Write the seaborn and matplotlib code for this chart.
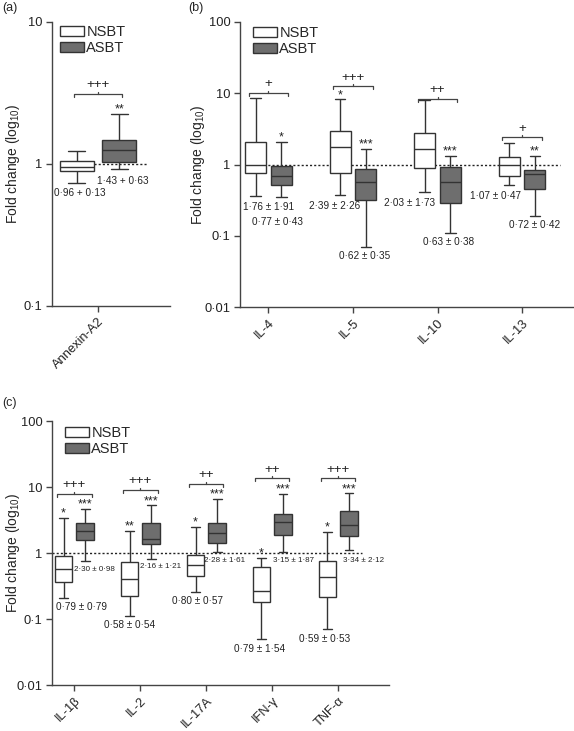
import pandas as pd
import seaborn as sns
import matplotlib.pyplot as plt
from matplotlib.patches import Patch
from matplotlib.ticker import NullLocator

# ---- values ----
# each box: [lower whisker, Q1, median, Q3, upper whisker] of the fold change
groups = ["NSBT", "ASBT"]

annexin_labels = ["Annexin-A2"]
annexin_nsbt = [[0.74, 0.89, 0.96, 1.05, 1.24]]
annexin_asbt = [[0.92, 1.03, 1.25, 1.48, 2.24]]

th2_labels = ["IL-4", "IL-5", "IL-10", "IL-13"]
th2_nsbt = [[0.36, 0.77, 1.00, 2.09, 8.5],
            [0.37, 0.76, 1.78, 3.00, 8.2],
            [0.41, 0.89, 1.65, 2.73, 8.1],
            [0.51, 0.69, 1.00, 1.26, 2.02]]
th2_asbt = [[0.35, 0.51, 0.70, 0.94, 2.05],
            [0.070, 0.32, 0.57, 0.87, 1.65],
            [0.111, 0.29, 0.56, 0.91, 1.33],
            [0.19, 0.46, 0.74, 0.85, 1.33]]

th1_labels = ["IL-1β", "IL-2", "IL-17A", "IFN-γ", "TNF-α"]
th1_nsbt = [[0.205, 0.36, 0.58, 0.90, 3.42],
            [0.111, 0.225, 0.40, 0.72, 2.17],
            [0.26, 0.45, 0.66, 0.92, 2.47],
            [0.049, 0.179, 0.27, 0.62, 0.85],
            [0.071, 0.217, 0.43, 0.75, 2.07]]
th1_asbt = [[0.76, 1.59, 2.15, 2.87, 4.68],
            [0.82, 1.39, 1.65, 2.87, 5.25],
            [1.04, 1.41, 2.03, 2.83, 6.6],
            [1.04, 1.89, 3.00, 3.93, 7.9],
            [1.10, 1.79, 2.62, 4.40, 8.0]]

# significance: * vs. 1, + between groups
annexin_plus = ["+++"]
annexin_star_nsbt = [""]
annexin_star_asbt = ["**"]
th2_plus = ["+", "+++", "++", "+"]
th2_star_nsbt = ["", "*", "", ""]
th2_star_asbt = ["*", "***", "***", "**"]
th1_plus = ["+++", "+++", "++", "++", "+++"]
th1_star_nsbt = ["*", "**", "*", "*", "*"]
th1_star_asbt = ["***", "***", "***", "***", "***"]

# mean ± SD labels
annexin_text = ["0·96 + 0·13", "1·43 + 0·63"]
th2_text = ["1·76 ± 1·91", "0·77 ± 0·43", "2·39 ± 2·26", "0·62 ± 0·35",
            "2·03 ± 1·73", "0·63 ± 0·38", "1·07 ± 0·47", "0·72 ± 0·42"]
th1_text = ["0·79 ± 0·79", "2·30 ± 0·98", "0·58 ± 0·54", "2·16 ± 1·21",
            "0·80 ± 0·57", "2·28 ± 1·61", "0·79 ± 1·54", "3·15 ± 1·87",
            "0·59 ± 0·53", "3·34 ± 2·12"]

# ---- layout of the labels (data coordinates) ----
annexin_text_xy = [(-0.17, 0.625), (0.23, 0.76)]
th2_text_xy = [(0.006, 0.256), (0.112, 0.158), (0.787, 0.262), (1.142, 0.052),
               (1.675, 0.291), (2.136, 0.0827), (2.692, 0.365), (3.154, 0.142)]
th1_text_xy = [(0.106, 0.153), (0.311, 0.562), (0.842, 0.0812), (1.313, 0.624),
               (1.859, 0.189), (2.284, 0.776), (2.80, 0.0349), (3.316, 0.757),
               (3.80, 0.0494), (4.378, 0.757)]
annexin_bracket_y = [3.11]
th2_bracket_y = [10.1, 12.6, 8.3, 2.41]
th1_bracket_y = [7.87, 9.04, 11.1, 13.6, 13.5]

LINE = "#333333"
palette = {"NSBT": "white", "ASBT": "#6e6e6e"}

sns.set_style("ticks")
plt.rcParams["font.family"] = ["Liberation Sans", "DejaVu Sans"]
plt.rcParams["mathtext.fontset"] = "custom"
plt.rcParams["mathtext.rm"] = "Liberation Sans"
plt.rcParams["axes.edgecolor"] = "#444444"
plt.rcParams["axes.linewidth"] = 1.0
plt.rcParams["xtick.color"] = "#444444"
plt.rcParams["ytick.color"] = "#444444"
plt.rcParams["xtick.labelcolor"] = "#222222"
plt.rcParams["ytick.labelcolor"] = "#222222"


def to_long(labels, nsbt, asbt):
    rows = []
    for lab, n, a in zip(labels, nsbt, asbt):
        rows += [(lab, "NSBT", v) for v in n]
        rows += [(lab, "ASBT", v) for v in a]
    return pd.DataFrame(rows, columns=["cytokine", "group", "fold"])


def draw_panel(ax, labels, nsbt, asbt, plus, star_n, star_a, texts, text_xy,
               bracket_y, width, gap, xlim, ylim, ppd, half, line_x,
               text_sizes):
    df = to_long(labels, nsbt, asbt)
    sns.boxplot(data=df, x="cytokine", y="fold", hue="group", hue_order=groups,
                palette=palette, whis=(0, 100), width=width, gap=gap,
                linecolor=LINE, linewidth=1.0, log_scale=True, legend=False,
                showfliers=False, ax=ax)
    ax.plot(line_x, [1, 1], ls=(0, (1.5, 1.5)), color="#222222", lw=1.0,
            zorder=0.5)

    for i in range(len(labels)):
        for sym, box, dx in ((star_n[i], nsbt[i], -width / 4),
                             (star_a[i], asbt[i], width / 4)):
            if sym:
                ax.annotate(sym, (i + dx, box[4]), xytext=(0, 1),
                            textcoords="offset points", ha="center",
                            va="baseline", fontsize=9, color="#222222")
        y = bracket_y[i]
        down = 10 ** (-3 / ppd)
        up = 10 ** (2 / ppd)
        ax.plot([i - half, i - half, i + half, i + half],
                [y * down, y, y, y * down], color="#444444", lw=0.9)
        ax.plot([i, i], [y, y * up], color="#444444", lw=0.9)
        ax.annotate(plus[i], (i, y), xytext=(0, 4), textcoords="offset points",
                    ha="center", va="baseline", fontsize=9.5, color="#222222")

    for t, (x, y), fs in zip(texts, text_xy, text_sizes):
        ax.text(x, y, t, ha="center", va="center", fontsize=fs,
                color="#222222")

    ax.set_xlim(*xlim)
    ax.set_ylim(*ylim)
    ax.yaxis.set_minor_locator(NullLocator())
    ax.set_xticks(range(len(labels)))
    ax.set_xticklabels(labels, rotation=45, ha="right",
                       rotation_mode="anchor", fontsize=9.3)
    ax.tick_params(length=4, width=1, pad=3, labelsize=9.3)
    ax.set_xlabel("")
    ax.set_ylabel(r"Fold change (log$_{\mathregular{10}}$)", fontsize=10)
    sns.despine(ax=ax)
    handles = [Patch(facecolor=palette[g], edgecolor=LINE, lw=1, label=g)
               for g in groups]
    return handles


fig = plt.figure(figsize=(5.74, 7.31), dpi=100)
W, H = 574, 731
ax_a = fig.add_axes([52 / W, 1 - 306 / H, 118 / W, 284 / H])
ax_b = fig.add_axes([240 / W, 1 - 307 / H, 334 / W, 285 / H])
ax_c = fig.add_axes([52 / W, 1 - 685 / H, 337 / W, 264 / H])

h = draw_panel(ax_a, annexin_labels, annexin_nsbt, annexin_asbt, annexin_plus,
               annexin_star_nsbt, annexin_star_asbt, annexin_text,
               annexin_text_xy, annexin_bracket_y, 0.8, 0.19,
               (-0.434, 0.68), (0.1, 10), 142, 0.226, [-0.04, 0.46],
               [7.2, 7.2])
ax_a.set_yticks([0.1, 1, 10])
ax_a.set_yticklabels(["0·1", "1", "10"])

draw_panel(ax_b, th2_labels, th2_nsbt, th2_asbt, th2_plus, th2_star_nsbt,
           th2_star_asbt, th2_text, th2_text_xy, th2_bracket_y, 0.61, 0.18,
           (-0.337, 3.615), (0.01, 100), 71.3, 0.236, [-0.26, 3.45],
           [7.2] * 8)
draw_panel(ax_c, th1_labels, th1_nsbt, th1_asbt, th1_plus, th1_star_nsbt,
           th1_star_asbt, th1_text, th1_text_xy, th1_bracket_y, 0.656, 0.19,
           (-0.34, 4.77), (0.01, 100), 66.3, 0.26, [-0.34, 4.36],
           [7.2, 5.8] * 5)
for ax in (ax_b, ax_c):
    ax.set_yticks([0.01, 0.1, 1, 10, 100])
    ax.set_yticklabels(["0·01", "0·1", "1", "10", "100"])

# label anchor is its right edge, ~22 px from the figure edge
ax_a.yaxis.set_label_coords(-0.254, 0.5)
ax_b.yaxis.set_label_coords(-0.099, 0.5)
ax_c.yaxis.set_label_coords(-0.089, 0.5)

for ax, anchor in ((ax_a, (0.068, 0.99)), (ax_b, (0.039, 0.985)),
                   (ax_c, (0.0386, 0.98))):
    ax.legend(handles=h, loc="upper left", bbox_to_anchor=anchor,
              frameon=False, fontsize=10.5, handlelength=1.65,
              handleheight=0.7, handletextpad=0.15, labelspacing=0.15,
              borderpad=0, borderaxespad=0)

fig.text(2 / W, 1 - 8 / H, "(a)", fontsize=9, va="center", ha="left")
fig.text(188 / W, 1 - 8 / H, "(b)", fontsize=9, va="center", ha="left")
fig.text(2 / W, 1 - 403 / H, "(c)", fontsize=9, va="center", ha="left")

fig.savefig("out.png", dpi=100)
